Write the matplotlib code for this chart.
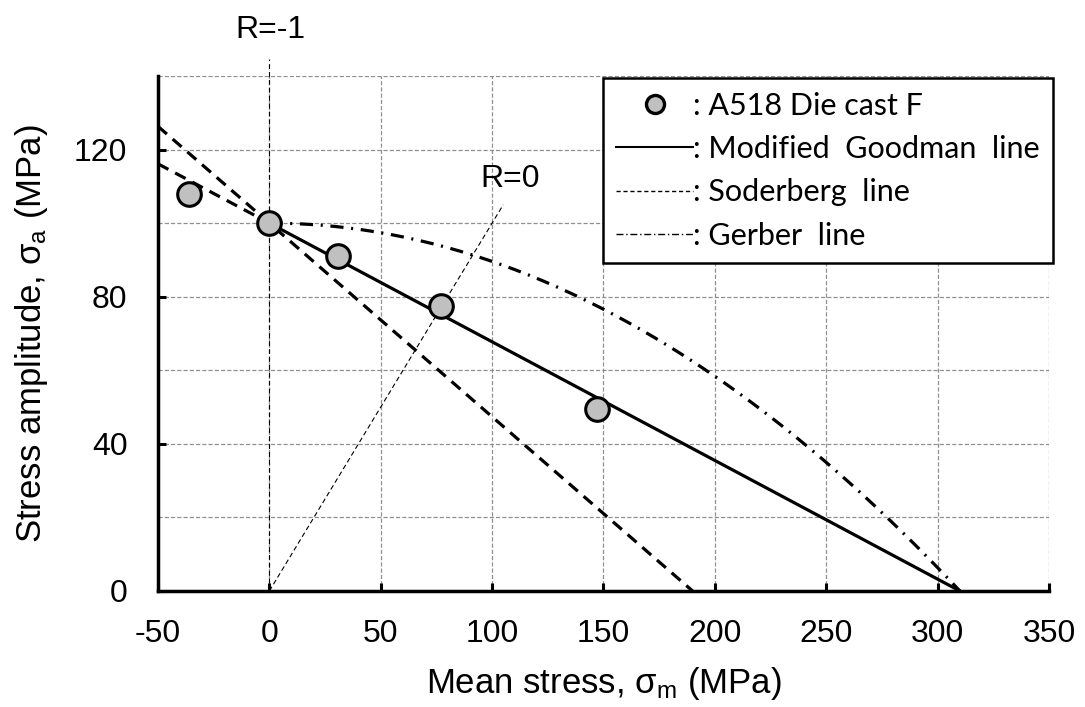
import matplotlib
matplotlib.use("Agg")
import matplotlib.pyplot as plt
import numpy as np
from matplotlib.lines import Line2D
from matplotlib.ticker import MultipleLocator

plt.rcParams['font.family'] = ['Liberation Sans', 'DejaVu Sans']
plt.rcParams['mathtext.fontset'] = 'custom'
plt.rcParams['mathtext.rm'] = 'Liberation Sans'
plt.rcParams['mathtext.it'] = 'Liberation Sans:italic'
plt.rcParams['lines.scale_dashes'] = False
plt.rcParams['axes.unicode_minus'] = False

# measured fatigue limits (mean stress, stress amplitude), MPa
sigma_m = [-36, 0, 31, 77, 147]
sigma_a = [108, 100, 91, 77.5, 49.5]

sigma_w = 100   # fully reversed fatigue limit
s_u = 310       # tensile strength
s_y = 190       # yield strength

# Goodman: solid from 0, dashed extension to -50
goodman_x = [0, s_u]
goodman_y = [sigma_w, 0]
goodman_ext_x = [-50, 0]
goodman_ext_y = [sigma_w * (1 + 50 / s_u), sigma_w]
soder_x = [-50, s_y]
soder_y = [sigma_w * (1 + 50 / s_y), 0]
gerber_x = np.linspace(0, s_u, 200)
gerber_y = sigma_w * (1 - (gerber_x / s_u) ** 2)

# stress ratio lines
r_m1_x = [0, 0]
r_m1_y = [0, 144.5]
r0_x = [0, 105]
r0_y = [0, 105]

fig = plt.figure(figsize=(10.85, 7.07), dpi=100)
ax = fig.add_axes([0.1456, 0.1641, 0.8212, 0.7284])

dash_s = (0, (8.5, 5.5))
dash_dot = (0, (9.5, 5.5, 1.5, 5.5))
thin_dash = (0, (3.5, 2.2))

ax.plot(r_m1_x, r_m1_y, color='black', lw=0.8, linestyle=thin_dash, clip_on=False, zorder=3)
ax.plot(r0_x, r0_y, color='black', lw=0.8, linestyle=thin_dash, zorder=3)
ax.plot(goodman_x, goodman_y, color='black', lw=2.3, zorder=4)
ax.plot(goodman_ext_x, goodman_ext_y, color='black', lw=2.3, linestyle=dash_s, zorder=4)
ax.plot(soder_x, soder_y, color='black', lw=2.3, linestyle=dash_s, zorder=4)
ax.plot(gerber_x, gerber_y, color='black', lw=2.3, linestyle=dash_dot, zorder=4)
ax.plot(sigma_m, sigma_a, linestyle='none', marker='o', markersize=17,
        markerfacecolor='#c0c0c0', markeredgecolor='black', markeredgewidth=2.2, zorder=5)

ax.text(0.5, 152.4, 'R=-1', ha='center', va='center', fontsize=23)
ax.text(108, 112, 'R=0', ha='center', va='center', fontsize=23)

ax.set_xlim(-50, 350)
ax.set_ylim(0, 140)
ax.xaxis.set_major_locator(MultipleLocator(50))
ax.yaxis.set_major_locator(MultipleLocator(40))
ax.yaxis.set_minor_locator(MultipleLocator(20))
ax.grid(True, which='both', color='#909090', lw=0.9, linestyle=(0, (3, 1.5)))
ax.set_axisbelow(True)

for side in ['top', 'right']:
    ax.spines[side].set_visible(False)
for side in ['left', 'bottom']:
    ax.spines[side].set_linewidth(2.5)
ax.tick_params(which='major', direction='in', length=6, width=2.2, labelsize=23)
ax.tick_params(axis='x', which='major', pad=20)
ax.tick_params(axis='y', which='major', pad=22)
ax.tick_params(which='minor', length=0)

ax.set_xlabel('Mean stress, σ$_{\\rm m}$ (MPa)', fontsize=25, labelpad=12)
ax.set_ylabel('Stress amplitude, σ$_{\\rm a}$ (MPa)', fontsize=25, labelpad=17)

handles = [
    Line2D([], [], linestyle='none', marker='o', markersize=13,
           markerfacecolor='#c0c0c0', markeredgecolor='black', markeredgewidth=2.4),
    Line2D([], [], color='black', lw=1.5),
    Line2D([], [], color='black', lw=1.0, linestyle=(0, (3, 2))),
    Line2D([], [], color='black', lw=1.0, linestyle=(0, (5, 2, 1, 2))),
]
labels = [': A518 Die cast F', ': Modified  Goodman  line',
          ': Soderberg  line', ': Gerber  line']
leg = ax.legend(handles, labels, loc='upper left', bbox_to_anchor=(0.499, 0.996),
                prop={'family': 'Lato', 'size': 22}, frameon=True, fancybox=False,
                edgecolor='black', framealpha=1, borderpad=0.45, labelspacing=0.5,
                handlelength=2.5, handletextpad=0.0, borderaxespad=0)
leg.get_frame().set_linewidth(1.8)
leg.set_zorder(6)

fig.savefig('out.png', dpi=100)
